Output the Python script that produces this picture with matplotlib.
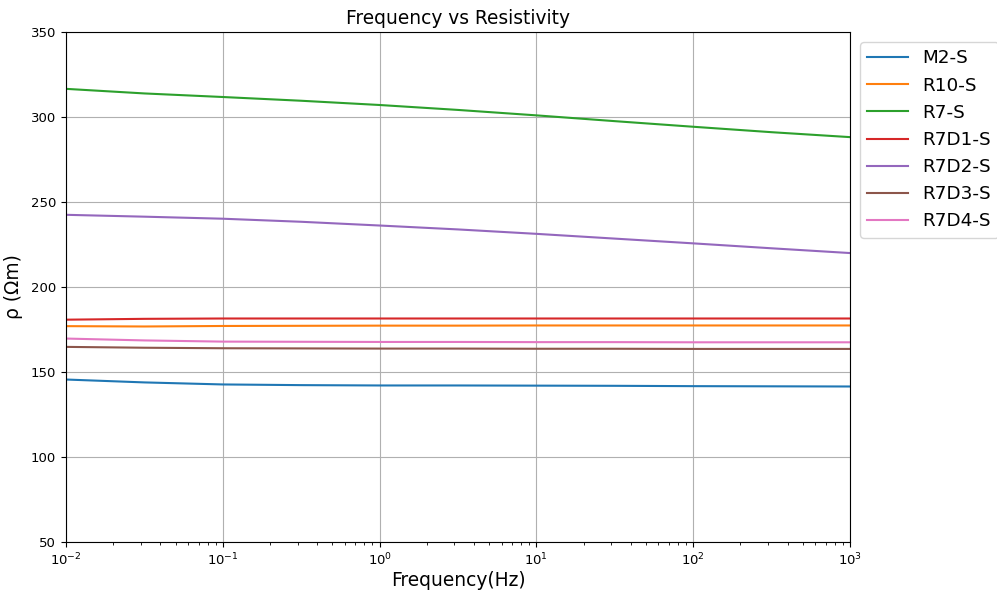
import numpy as np
import matplotlib
matplotlib.use("Agg")
import matplotlib.pyplot as plt

freq = [0.01, 0.0316, 0.1, 0.316, 1, 3.16, 10, 31.6, 100, 316, 1000]
series_names = ["M2-S", "R10-S", "R7-S", "R7D1-S", "R7D2-S", "R7D3-S", "R7D4-S"]
m2_s = [145.6, 143.9, 142.7, 142.3, 142.1, 142.1, 142.0, 141.9, 141.7, 141.6, 141.5]
r10_s = [177.0, 176.8, 177.1, 177.2, 177.3, 177.3, 177.4, 177.4, 177.4, 177.4, 177.4]
r7_s = [316.6, 313.9, 311.8, 309.6, 307.1, 304.2, 301.0, 297.6, 294.3, 291.1, 288.2]
r7d1_s = [180.8, 181.3, 181.5, 181.5, 181.5, 181.5, 181.5, 181.5, 181.5, 181.5, 181.5]
r7d2_s = [242.5, 241.4, 240.2, 238.4, 236.2, 233.9, 231.3, 228.5, 225.7, 222.8, 220.0]
r7d3_s = [164.8, 164.3, 164.0, 163.9, 163.8, 163.8, 163.7, 163.7, 163.6, 163.6, 163.6]
r7d4_s = [169.7, 168.6, 167.9, 167.8, 167.7, 167.7, 167.6, 167.6, 167.5, 167.5, 167.5]

all_series = [m2_s, r10_s, r7_s, r7d1_s, r7d2_s, r7d3_s, r7d4_s]

fig = plt.figure(figsize=(9.97, 5.94), dpi=100)
ax = fig.add_axes([0.0662, 0.0875, 0.7864, 0.8585])
for name, vals in zip(series_names, all_series):
    ax.plot(freq, vals, label=name, linewidth=1.5)

ax.set_xscale("log")
ax.set_xlim(0.01, 1000)
ax.set_ylim(50, 350)
ax.grid(True, which="major")
ax.tick_params(labelsize=9.5)
ax.set_title("Frequency vs Resistivity", fontsize=13.4)
ax.set_xlabel("Frequency(Hz)", fontsize=13.4, labelpad=2)
ax.set_ylabel("ρ (Ωm)", fontsize=13.4, labelpad=6)
ax.legend(loc="upper left", bbox_to_anchor=(1.0, 1.0), fontsize=13.2,
          handlelength=2.2, borderaxespad=0.55)

fig.savefig("out.png", dpi=100)
